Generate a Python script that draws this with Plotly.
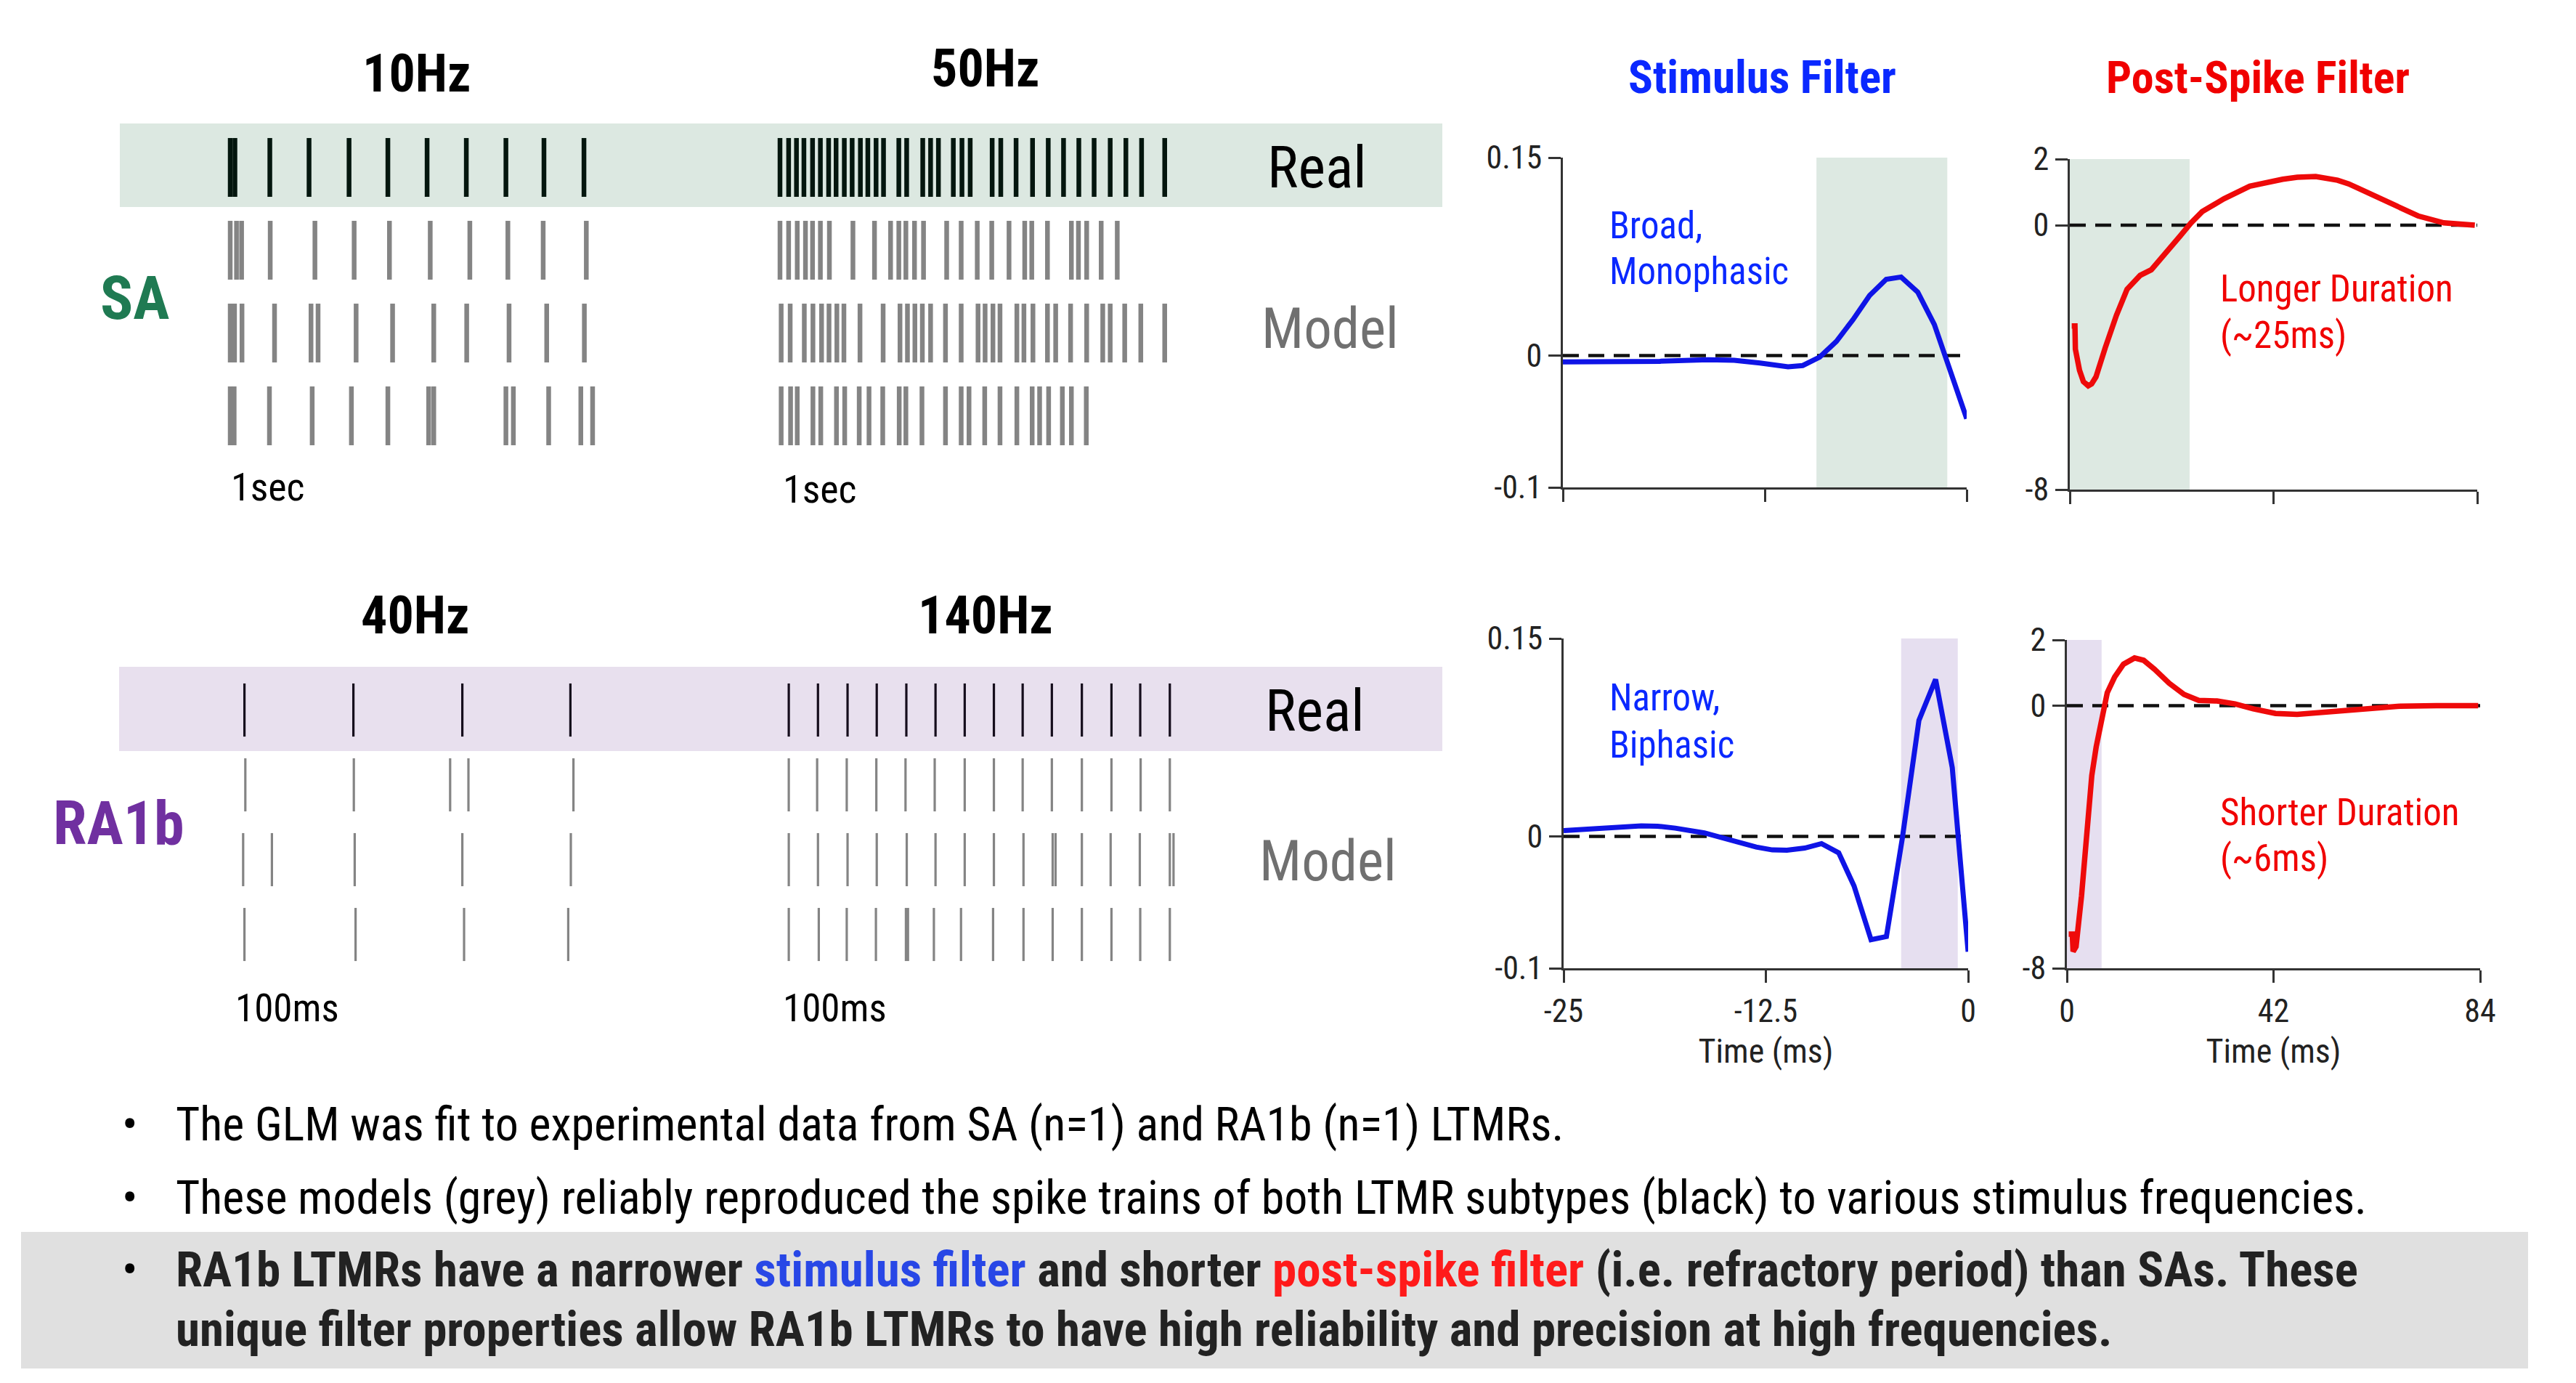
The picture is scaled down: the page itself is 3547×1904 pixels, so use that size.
import plotly.graph_objects as go

W, H = 3547, 1904
NARROW = "Liberation Sans Narrow, Arial Narrow, Roboto Condensed, DejaVu Sans Condensed, sans-serif"

# ---------------- DATA ----------------
# SA raster, 10 Hz (seconds)
sa10_real = [0.0, 0.012, 0.101, 0.201, 0.303, 0.402, 0.502, 0.602, 0.703, 0.800, 0.902]
sa10_model1 = [0.0, 0.016, 0.029, 0.102, 0.216, 0.316, 0.406, 0.510, 0.611, 0.708, 0.798, 0.908]
sa10_model2 = [0.0, 0.011, 0.030, 0.113, 0.206, 0.224, 0.321, 0.414, 0.519, 0.603, 0.711, 0.807, 0.903]
sa10_model3 = [0.0, 0.010, 0.100, 0.209, 0.309, 0.402, 0.506, 0.519, 0.703, 0.722, 0.812, 0.894, 0.924]
# SA raster, 50 Hz (seconds)
sa50_real = [0.000, 0.022, 0.042, 0.061, 0.083, 0.103, 0.124, 0.143, 0.164, 0.184, 0.205, 0.224, 0.245,
             0.264, 0.303, 0.323, 0.364, 0.384, 0.404, 0.442, 0.464, 0.485, 0.541, 0.563, 0.602, 0.644,
             0.684, 0.723, 0.762, 0.801, 0.842, 0.882, 0.922, 0.981]
sa50_model1 = [0.000, 0.022, 0.044, 0.065, 0.083, 0.103, 0.126, 0.186, 0.241, 0.282, 0.303, 0.321, 0.343,
               0.366, 0.425, 0.462, 0.503, 0.540, 0.584, 0.624, 0.642, 0.682, 0.743, 0.761, 0.782, 0.819, 0.860]
sa50_model2 = [0.003, 0.026, 0.062, 0.084, 0.106, 0.125, 0.145, 0.163, 0.204, 0.263, 0.306, 0.325, 0.344,
               0.363, 0.384, 0.422, 0.462, 0.505, 0.523, 0.543, 0.561, 0.604, 0.622, 0.645, 0.682, 0.703,
               0.741, 0.782, 0.823, 0.842, 0.879, 0.920, 0.981]
sa50_model3 = [0.003, 0.027, 0.044, 0.084, 0.104, 0.144, 0.165, 0.202, 0.227, 0.262, 0.304, 0.321, 0.362,
               0.422, 0.462, 0.482, 0.522, 0.561, 0.604, 0.643, 0.662, 0.685, 0.720, 0.743, 0.781]
# RA1b raster, 40 Hz (ms)
ra40_real = [0.0, 25.0, 50.0, 74.8]
ra40_model1 = [0.2, 25.1, 47.2, 51.4, 75.5]
ra40_model2 = [-0.3, 6.3, 25.3, 50.0, 74.9]
ra40_model3 = [0.0, 25.5, 50.4, 74.3]
# RA1b raster, 140 Hz (ms)
ra140_real = [0, 7.1, 14.3, 21.4, 28.6, 35.7, 42.8, 49.9, 56.9, 64.0, 71.3, 78.5, 85.5, 92.7]
ra140_model1 = [0, 6.9, 14.1, 21.3, 28.4, 35.5, 42.8, 49.9, 56.9, 64.0, 71.3, 78.5, 85.6, 92.7]
ra140_model2 = [0, 7.1, 14.3, 21.4, 28.7, 35.7, 42.8, 49.9, 57.1, 64.2, 64.9, 71.3, 78.3, 85.4, 92.7, 93.6]
ra140_model3 = [0, 7.3, 14.1, 21.2, 28.5, 29.0, 35.3, 41.9, 49.7, 57.1, 64.2, 71.3, 78.5, 85.5, 92.7]

# Stimulus filters (time in ms)
stim_sa_t = [-25, -22.2, -19.0, -16.0, -14.4, -12.8, -11.06, -10.15, -9.1, -8.07, -7.05, -6.01,
             -4.98, -4.06, -3.03, -2.0, -0.96, 0]
stim_sa_v = [-0.0049, -0.005, -0.0044, -0.0032, -0.0037, -0.0057, -0.0086, -0.0076, -0.0012, 0.0106,
             0.027, 0.0455, 0.0578, 0.0595, 0.048, 0.0234, -0.0123, -0.0479]
stim_ra_t = [-25, -22.7, -20.2, -19.2, -18.1, -16.3, -14.5, -13.1, -12.1, -11.2, -10.1, -9.06, -8.0,
             -7.05, -6.0, -5.05, -4.07, -3.04, -2.01, -0.98, 0]
stim_ra_v = [0.0043, 0.0062, 0.0079, 0.0077, 0.0062, 0.0026, -0.0034, -0.0081, -0.0103, -0.0105,
             -0.0089, -0.0055, -0.0125, -0.0376, -0.0784, -0.076, -0.0017, 0.088, 0.119, 0.052, -0.0875]
# Post-spike filters (time in ms)
psf_sa_t = [0.4, 1.06, 1.15, 2.0, 2.8, 3.8, 4.5, 5.4, 7.3, 9.6, 11.8, 14.5, 16.8, 19.8, 22.8, 25.0,
            27.3, 31.8, 37.1, 43.9, 46.9, 50.7, 55.2, 57.5, 60.5, 63.5, 66.5, 69.2, 71.8, 77.1, 80.1, 83.5]
psf_sa_v = [-3.05, -3.05, -3.75, -4.39, -4.73, -4.86, -4.8, -4.59, -3.71, -2.73, -1.94, -1.52, -1.35,
            -0.86, -0.32, 0.07, 0.41, 0.80, 1.18, 1.39, 1.45, 1.47, 1.36, 1.25, 1.05, 0.83, 0.61, 0.43,
            0.28, 0.07, 0.03, 0.0]
psf_ra_t = [0.37, 1.1, 1.26, 1.86, 2.97, 4.1, 5.06, 5.95, 7.06, 8.2, 9.7, 11.5, 13.75, 15.6, 17.8, 20.8,
            23.8, 26.8, 30.5, 34.2, 37.9, 42.4, 46.8, 52.8, 60.2, 67.7, 75.1, 83.6]
psf_ra_v = [-6.96, -6.96, -7.49, -7.34, -5.80, -3.67, -2.13, -1.26, -0.34, 0.39, 0.87, 1.26, 1.45, 1.38,
            1.11, 0.68, 0.34, 0.16, 0.14, 0.05, -0.10, -0.24, -0.27, -0.21, -0.10, -0.02, 0.0, 0.0]

stim_ticks = [-0.1, 0, 0.15]
stim_ticktext = ["-0.1", "0", "0.15"]
psf_ticks = [-8, 0, 2]
psf_ticktext = ["-8", "0", "2"]
stim_xticks = [-25, -12.5, 0]
stim_xticktext = ["-25", "-12.5", "0"]
psf_xticks = [0, 42, 84]
psf_xticktext = ["0", "42", "84"]

bullets = [
    "The GLM was fit to experimental data from SA (n=1) and RA1b (n=1) LTMRs.",
    "These models (grey) reliably reproduced the spike trains of both LTMR subtypes (black) to various stimulus frequencies.",
]
bold_line1 = ("RA1b LTMRs have a narrower <span style='color:#2847e6'>stimulus filter</span> and shorter "
              "<span style='color:#ff1a1a'>post-spike filter</span> (i.e. refractory period) than SAs. These")
bold_line2 = "unique filter properties allow RA1b LTMRs to have high reliability and precision at high frequencies."

# ---------------- HELPERS ----------------
def px(x):
    return x / W

def py(y):
    return 1 - y / H

def xdom(a, b):
    return [px(a), px(b)]

def ydom(top, bottom):
    return [py(bottom), py(top)]

def spike_xy(times, row, half=0.355):
    xs, ys = [], []
    for t in times:
        xs += [t, t, None]
        ys += [row - half, row + half, None]
    return xs, ys

fig = go.Figure()

REAL_SA = "#04160e"
REAL_RA = "#150d1c"
MODEL = "#848484"

def add_raster(rows, xa, ya, real_color, width):
    for i, times in enumerate(rows):
        xs, ys = spike_xy(times, i)
        fig.add_trace(go.Scatter(x=xs, y=ys, mode="lines", xaxis=xa, yaxis=ya,
                                 line=dict(color=real_color if i == 0 else MODEL, width=width),
                                 hoverinfo="skip", showlegend=False))

add_raster([sa10_real, sa10_model1, sa10_model2, sa10_model3], "x", "y", REAL_SA, 6.5)
add_raster([sa50_real, sa50_model1, sa50_model2, sa50_model3], "x2", "y2", REAL_SA, 6.5)
add_raster([ra40_real, ra40_model1, ra40_model2, ra40_model3], "x3", "y3", REAL_RA, 3.2)
add_raster([ra140_real, ra140_model1, ra140_model2, ra140_model3], "x4", "y4", REAL_RA, 3.2)

BLUE = "#0f14e6"
RED = "#ee0a0a"
fig.add_trace(go.Scatter(x=stim_sa_t, y=stim_sa_v, mode="lines", xaxis="x5", yaxis="y5",
                         line=dict(color=BLUE, width=7), hoverinfo="skip", showlegend=False))
fig.add_trace(go.Scatter(x=psf_sa_t, y=psf_sa_v, mode="lines", xaxis="x6", yaxis="y6",
                         line=dict(color=RED, width=7.5), hoverinfo="skip", showlegend=False))
fig.add_trace(go.Scatter(x=stim_ra_t, y=stim_ra_v, mode="lines", xaxis="x7", yaxis="y7",
                         line=dict(color=BLUE, width=7), hoverinfo="skip", showlegend=False))
fig.add_trace(go.Scatter(x=psf_ra_t, y=psf_ra_v, mode="lines", xaxis="x8", yaxis="y8",
                         line=dict(color=RED, width=7.5), hoverinfo="skip", showlegend=False))

# ---------------- AXES ----------------
hidden = dict(visible=False, showgrid=False, zeroline=False, fixedrange=True, automargin=False)

def lin_range(a_px, b_px, zero_px, px_per_unit):
    return [(a_px - zero_px) / px_per_unit, (b_px - zero_px) / px_per_unit]

layout_axes = {}
# raster axes
layout_axes["xaxis"] = dict(hidden, domain=xdom(250, 950), range=lin_range(250, 950, 317, 540), anchor="y")
layout_axes["xaxis2"] = dict(hidden, domain=xdom(1000, 1700), range=lin_range(1000, 1700, 1074, 540), anchor="y2")
layout_axes["xaxis3"] = dict(hidden, domain=xdom(250, 950), range=lin_range(250, 950, 336.6, 6.0), anchor="y3")
layout_axes["xaxis4"] = dict(hidden, domain=xdom(1000, 1700), range=lin_range(1000, 1700, 1086.1, 5.66), anchor="y4")
sa_rows = lin_range(650, 170, 230.5, 114)
ra_rows = lin_range(1360, 900, 977.5, 103)
layout_axes["yaxis"] = dict(hidden, domain=ydom(170, 650), range=sa_rows, anchor="x")
layout_axes["yaxis2"] = dict(hidden, domain=ydom(170, 650), range=sa_rows, anchor="x2")
layout_axes["yaxis3"] = dict(hidden, domain=ydom(900, 1360), range=ra_rows, anchor="x3")
layout_axes["yaxis4"] = dict(hidden, domain=ydom(900, 1360), range=ra_rows, anchor="x4")

AX = "#333333"
TICKFONT = dict(family=NARROW, size=44, color="#222222")
base = dict(showgrid=False, zeroline=False, showline=True, linecolor=AX, linewidth=3,
            ticks="outside", ticklen=17, tickwidth=3, tickcolor=AX, tickfont=TICKFONT,
            fixedrange=True, automargin=False)
title_font = dict(family=NARROW, size=46, color="#222222")

layout_axes["xaxis5"] = dict(base, domain=xdom(2152, 2708), range=[-25, 0], anchor="y5",
                             tickvals=stim_xticks, showticklabels=False)
layout_axes["yaxis5"] = dict(base, domain=ydom(217, 671), range=[-0.1, 0.15], anchor="x5",
                             tickvals=stim_ticks, ticktext=stim_ticktext, ticklabelstandoff=0)
layout_axes["xaxis6"] = dict(base, domain=xdom(2850, 3411), range=[0, 84], anchor="y6",
                             tickvals=psf_xticks, showticklabels=False)
layout_axes["yaxis6"] = dict(base, domain=ydom(219, 674), range=[-8, 2], anchor="x6",
                             tickvals=psf_ticks, ticktext=psf_ticktext, ticklabelstandoff=0)
layout_axes["xaxis7"] = dict(base, domain=xdom(2153, 2710), range=[-25, 0], anchor="y7",
                             tickvals=stim_xticks, ticktext=stim_xticktext, ticklabelstandoff=1,
                             title=dict(text="Time (ms)", font=title_font))
layout_axes["yaxis7"] = dict(base, domain=ydom(879, 1333), range=[-0.1, 0.15], anchor="x7",
                             tickvals=stim_ticks, ticktext=stim_ticktext, ticklabelstandoff=0)
layout_axes["xaxis8"] = dict(base, domain=xdom(2846, 3415), range=[0, 84], anchor="y8",
                             tickvals=psf_xticks, ticktext=psf_xticktext, ticklabelstandoff=1,
                             title=dict(text="Time (ms)", font=title_font))
layout_axes["yaxis8"] = dict(base, domain=ydom(881, 1333), range=[-8, 2], anchor="x8",
                             tickvals=psf_ticks, ticktext=psf_ticktext, ticklabelstandoff=0)

# ---------------- SHAPES ----------------
SA_BAND = "#dce8e1"
RA_BAND = "#e8e0ee"
shapes = [
    dict(type="rect", xref="paper", yref="paper", x0=px(165), x1=px(1986), y0=py(285), y1=py(170),
         fillcolor=SA_BAND, line=dict(width=0), layer="below"),
    dict(type="rect", xref="paper", yref="paper", x0=px(164), x1=px(1986), y0=py(1034), y1=py(918),
         fillcolor=RA_BAND, line=dict(width=0), layer="below"),
    dict(type="rect", xref="paper", yref="paper", x0=px(29), x1=px(3481), y0=py(1884), y1=py(1696),
         fillcolor="#e0e0e0", line=dict(width=0), layer="below"),
    dict(type="rect", xref="x5", yref="y5", x0=-9.3, x1=-1.2, y0=-0.1, y1=0.15,
         fillcolor="#dde9e2", line=dict(width=0), layer="below"),
    dict(type="rect", xref="x6", yref="y6", x0=0, x1=24.7, y0=-8, y1=2,
         fillcolor="#dde9e2", line=dict(width=0), layer="below"),
    dict(type="rect", xref="x7", yref="y7", x0=-4.14, x1=-0.64, y0=-0.1, y1=0.15,
         fillcolor="#e6dff0", line=dict(width=0), layer="below"),
    dict(type="rect", xref="x8", yref="y8", x0=0, x1=7.06, y0=-8, y1=2,
         fillcolor="#e6dff0", line=dict(width=0), layer="below"),
]
for xa, ya, x0, x1 in [("x5", "y5", -25, 0), ("x6", "y6", 0, 84), ("x7", "y7", -25, 0), ("x8", "y8", 0, 84)]:
    shapes.append(dict(type="line", xref=xa, yref=ya, x0=x0, x1=x1, y0=0, y1=0,
                       line=dict(color="#111111", width=4.5, dash="22px,13px"), layer="below"))

# ---------------- TEXT ----------------
ann = []

def text(x, y, s, size, color="#000000", bold=False, xanchor="center", family=NARROW):
    ann.append(dict(x=px(x), y=py(y), xref="paper", yref="paper", text=(f"<b>{s}</b>" if bold else s),
                    showarrow=False, xanchor=xanchor, yanchor="middle",
                    font=dict(family=family, size=size, color=color)))

text(574, 101, "10Hz", 72, bold=True)
text(1357, 94, "50Hz", 72, bold=True)
text(572, 847, "40Hz", 72, bold=True)
text(1357, 847, "140Hz", 72, bold=True)
text(185, 410, "SA", 84, color="#1f7a52", bold=True)
text(163, 1133, "RA1b", 84, color="#7030a0", bold=True)
text(1814, 231, "Real", 80)
text(1832, 453, "Model", 77, color="#707070")
text(1811, 979, "Real", 80)
text(1828, 1186, "Model", 77, color="#707070")
text(316, 670, "1sec", 54, xanchor="left")
text(1076, 673, "1sec", 54, xanchor="left")
text(322, 1388, "100ms", 53, xanchor="left")
text(1076, 1388, "100ms", 53, xanchor="left")

text(2426, 106, "Stimulus Filter", 63, color="#0a28ff", bold=True)
text(3109, 106, "Post-Spike Filter", 62, color="#f00000", bold=True)
text(2214, 311, "Broad,", 51, color="#0a28ff", xanchor="left")
text(2214, 374, "Monophasic", 51, color="#0a28ff", xanchor="left")
text(2214, 960, "Narrow,", 51, color="#0a28ff", xanchor="left")
text(2214, 1025, "Biphasic", 51, color="#0a28ff", xanchor="left")
text(3055, 397, "Longer Duration", 51, color="#f00000", xanchor="left")
text(3055, 461, "(~25ms)", 51, color="#f00000", xanchor="left")
text(3055, 1118, "Shorter Duration", 51, color="#f00000", xanchor="left")
text(3055, 1181, "(~6ms)", 51, color="#f00000", xanchor="left")

BODY = 64
BODY_BOLD = 67
for yy in (1548, 1649, 1748):
    text(179, yy, "•", BODY)
text(240, 1548, bullets[0], BODY, xanchor="left")
text(240, 1649, bullets[1], BODY, xanchor="left")
text(240, 1748, bold_line1, BODY_BOLD, color="#222222", bold=True, xanchor="left")
text(240, 1830, bold_line2, BODY_BOLD, color="#222222", bold=True, xanchor="left")

fig.update_layout(
    width=W, height=H, autosize=False,
    margin=dict(l=0, r=0, t=0, b=0, pad=0, autoexpand=False),
    paper_bgcolor="white", plot_bgcolor="rgba(0,0,0,0)",
    showlegend=False, shapes=shapes, annotations=ann,
    **layout_axes,
)

fig.write_html("out.html", config={"displayModeBar": False})
